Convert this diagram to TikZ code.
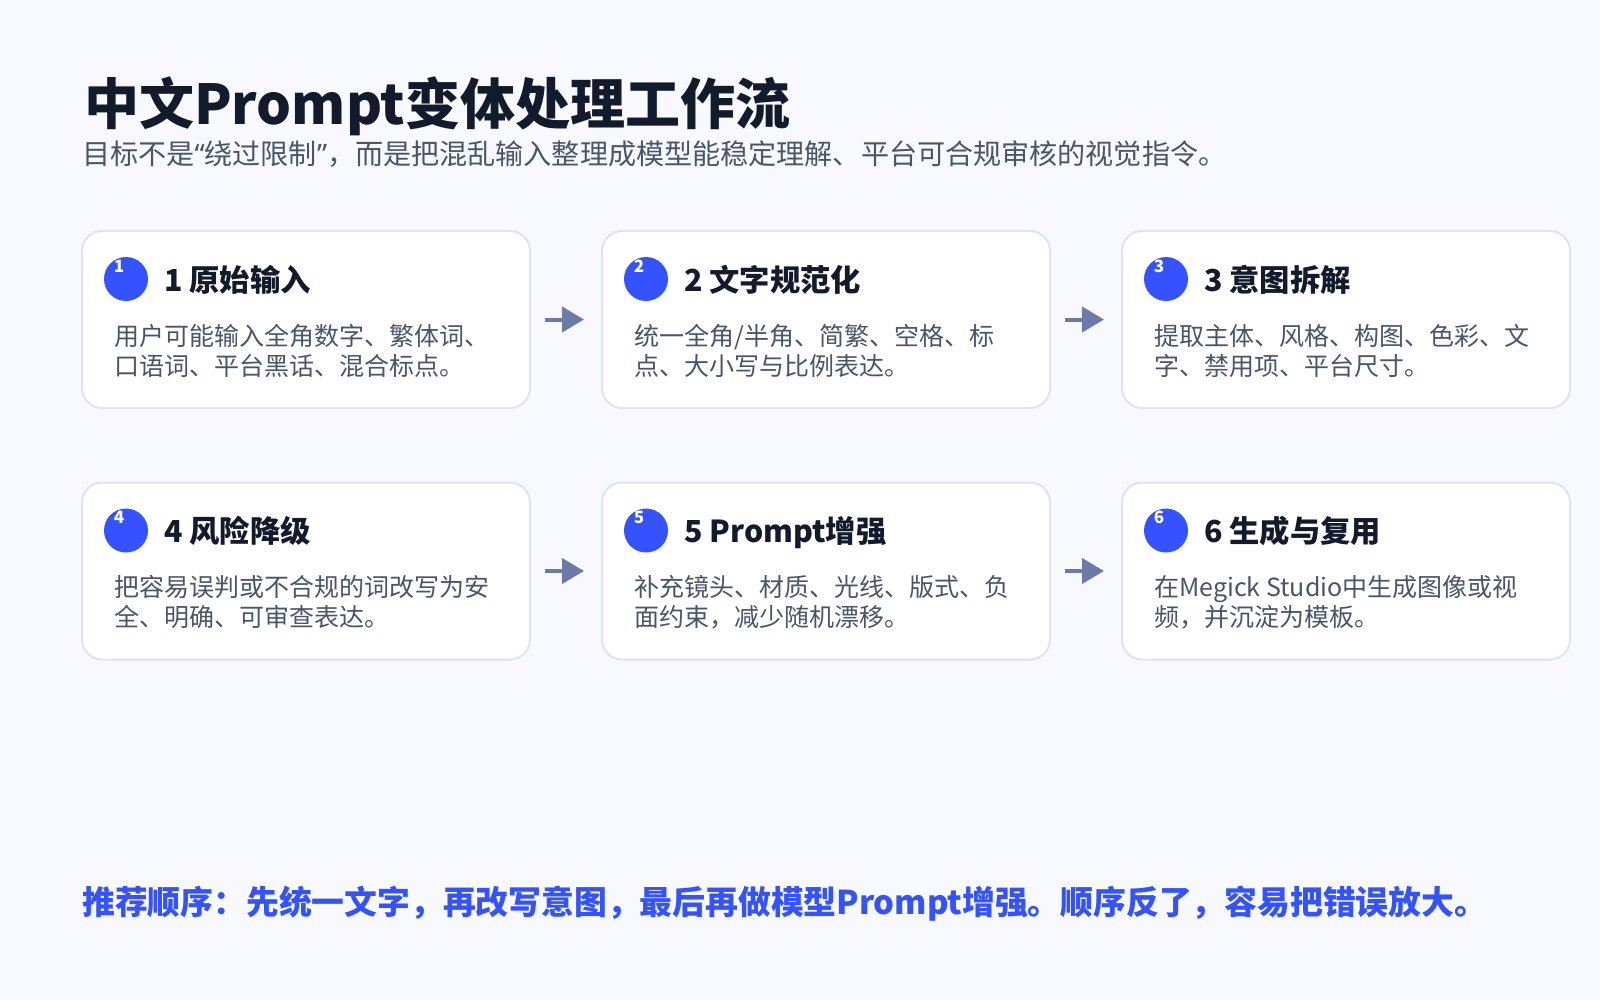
\documentclass[tikz,border=0pt]{standalone}
\usepackage{fontspec}
\setmainfont{Noto Sans CJK SC}
\newfontfamily\quotefont{Noto Sans}
\usetikzlibrary{positioning,calc,arrows.meta}
\definecolor{pagebg}{HTML}{F7F9FE}
\definecolor{ink}{HTML}{121A2C}
\definecolor{slate}{HTML}{4A5568}
\definecolor{cardline}{HTML}{DCE4F5}
\definecolor{accent}{HTML}{3452FF}
\definecolor{arrowc}{HTML}{6B7AA8}
\begin{document}
\begin{tikzpicture}[x=1pt,y=-1pt,
  card/.style={draw=cardline,line width=2pt,fill=white,rounded corners=20pt,minimum width=448pt,minimum height=177pt},
  badge/.style={circle,fill=accent,minimum size=44pt,inner sep=0pt},
  badgenum/.style={text=white,inner sep=0pt,font=\fontsize{17}{17}\selectfont\bfseries},
  heading/.style={anchor=base west,inner sep=0pt,text=ink,font=\fontsize{30.3}{36}\selectfont\bfseries},
  body/.style={anchor=base west,inner sep=0pt,text=slate,align=left,font=\fontsize{25}{30}\selectfont},
  flow/.style={-{Triangle[length=22pt,width=25pt]},line width=4pt,draw=arrowc,shorten <=14pt,shorten >=17pt}]
\fill[pagebg] (0,0) rectangle (1600,1000);
\useasboundingbox (0,0) rectangle (1600,1000);
% title block
\node[anchor=base west,inner sep=0pt,text=ink,font=\fontsize{55}{60}\selectfont\bfseries] (title) at (84,125) {中文Prompt变体处理工作流};
\node[anchor=base west,inner sep=0pt,text=slate,font=\fontsize{28.1}{30}\selectfont] (subtitle) at (82,165) {目标不是{\quotefont “}绕过限制{\quotefont ”}，而是把混乱输入整理成模型能稳定理解、平台可合规审核的视觉指令。};
% cards
\node[card] (card1) at (306,319.5) {};
\node[card] (card2) at (826,319.5) {};
\node[card] (card3) at (1346,319.5) {};
\node[card] (card4) at (306,571) {};
\node[card] (card5) at (826,571) {};
\node[card] (card6) at (1346,571) {};
% badges
\node[badge] (badge1) at ($(card1.north west)+(45,49)$) {};
\node[badge] (badge2) at ($(card2.north west)+(45,49)$) {};
\node[badge] (badge3) at ($(card3.north west)+(45,49)$) {};
\node[badge] (badge4) at ($(card4.north west)+(45,49)$) {};
\node[badge] (badge5) at ($(card5.north west)+(45,49)$) {};
\node[badge] (badge6) at ($(card6.north west)+(45,49)$) {};
\node[badgenum] (num1) at ($(badge1)+(-7,-13)$) {1};
\node[badgenum] (num2) at ($(badge2)+(-7,-13)$) {2};
\node[badgenum] (num3) at ($(badge3)+(-7,-13)$) {3};
\node[badgenum] (num4) at ($(badge4)+(-7,-13)$) {4};
\node[badgenum] (num5) at ($(badge5)+(-7,-13)$) {5};
\node[badgenum] (num6) at ($(badge6)+(-7,-13)$) {6};
% headings
\node[heading] (head1) at ($(card1.north west)+(83,61)$) {1 原始输入};
\node[heading] (head2) at ($(card2.north west)+(83,61)$) {2 文字规范化};
\node[heading] (head3) at ($(card3.north west)+(83,61)$) {3 意图拆解};
\node[heading] (head4) at ($(card4.north west)+(83,61)$) {4 风险降级};
\node[heading] (head5) at ($(card5.north west)+(83,61)$) {5 Prompt增强};
\node[heading] (head6) at ($(card6.north west)+(83,61)$) {6 生成与复用};
% descriptions (base = last line)
\node[body] (text1) at ($(card1.north west)+(33,145)$) {用户可能输入全角数字、繁体词、\\口语词、平台黑话、混合标点。};
\node[body] (text2) at ($(card2.north west)+(33,145)$) {统一全角/半角、简繁、空格、标\\点、大小写与比例表达。};
\node[body] (text3) at ($(card3.north west)+(33,145)$) {提取主体、风格、构图、色彩、文\\字、禁用项、平台尺寸。};
\node[body] (text4) at ($(card4.north west)+(33,145)$) {把容易误判或不合规的词改写为安\\全、明确、可审查表达。};
\node[body] (text5) at ($(card5.north west)+(33,145)$) {补充镜头、材质、光线、版式、负\\面约束，减少随机漂移。};
\node[body] (text6) at ($(card6.north west)+(33,145)$) {在Megick Studio中生成图像或视\\频，并沉淀为模板。};
% arrows
\draw[flow] (card1) -- (card2);
\draw[flow] (card2) -- (card3);
\draw[flow] (card4) -- (card5);
\draw[flow] (card5) -- (card6);
% footer note
\node[anchor=base west,inner sep=0pt,text=accent,font=\fontsize{32.8}{36}\selectfont\bfseries] (note) at (82,914) {推荐顺序：先统一文字，再改写意图，最后再做模型Prompt增强。顺序反了，容易把错误放大。};
\end{tikzpicture}
\end{document}
